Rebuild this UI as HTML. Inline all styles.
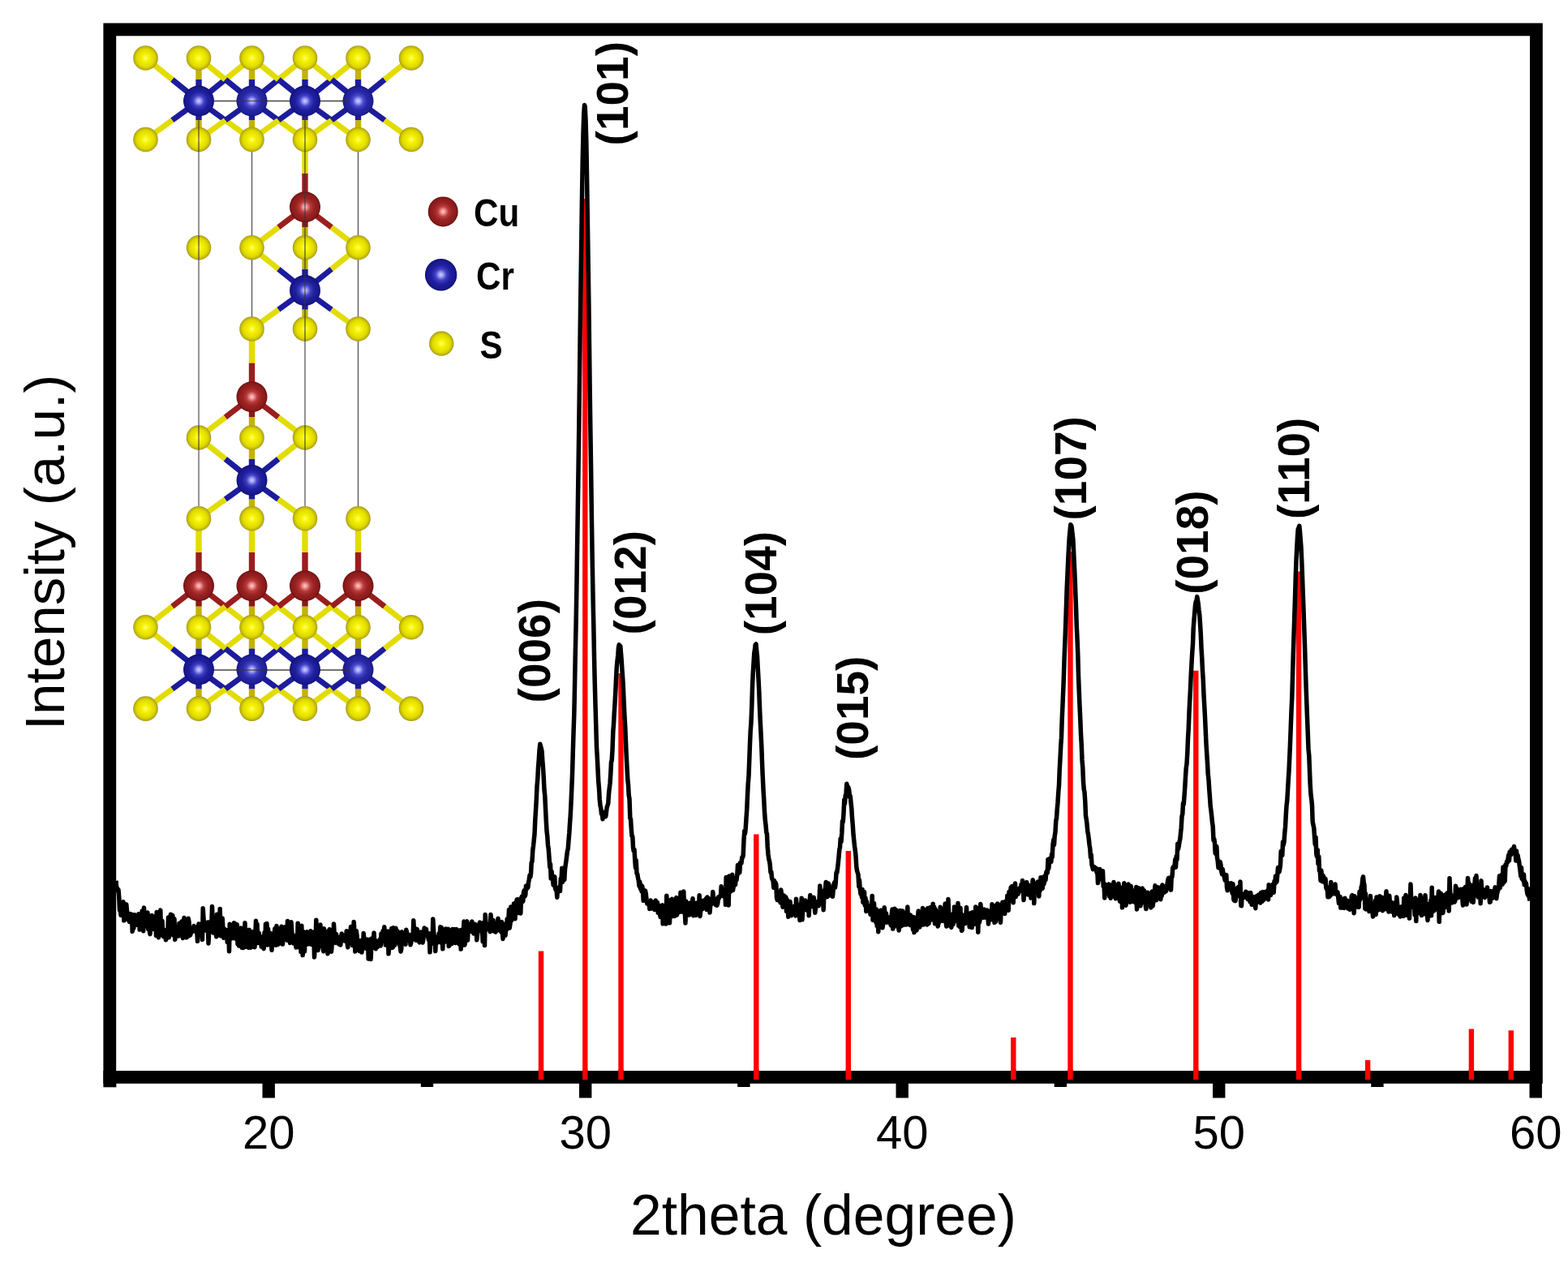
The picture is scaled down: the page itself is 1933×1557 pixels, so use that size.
<!DOCTYPE html><html><head><meta charset="utf-8"><style>html,body{margin:0;padding:0;background:#fff;}svg{display:block;}</style></head><body>
<svg width="1933" height="1557" viewBox="0 0 1933 1557">
<rect width="100%" height="100%" fill="#fff"/>
<defs>
<radialGradient id="gS" cx="0.5" cy="0.5" r="0.5"><stop offset="0" stop-color="#ffff70"/><stop offset="0.3" stop-color="#f6f200"/><stop offset="0.72" stop-color="#e0da00"/><stop offset="0.9" stop-color="#c2b800"/><stop offset="1" stop-color="#a09630"/></radialGradient>
<radialGradient id="gCr" cx="0.5" cy="0.5" r="0.5"><stop offset="0" stop-color="#d4d4ff"/><stop offset="0.15" stop-color="#9a9af6"/><stop offset="0.35" stop-color="#4040c4"/><stop offset="0.6" stop-color="#2020a0"/><stop offset="0.88" stop-color="#181890"/><stop offset="1" stop-color="#10106c"/></radialGradient>
<radialGradient id="gCu" cx="0.5" cy="0.5" r="0.5"><stop offset="0" stop-color="#ffd0d0"/><stop offset="0.15" stop-color="#f09090"/><stop offset="0.35" stop-color="#b83c3c"/><stop offset="0.6" stop-color="#9a2222"/><stop offset="0.88" stop-color="#8a1a1a"/><stop offset="1" stop-color="#641010"/></radialGradient>
<radialGradient id="gCr2" cx="0.5" cy="0.5" r="0.5"><stop offset="0" stop-color="#d8d8ff"/><stop offset="0.15" stop-color="#a0a0f8"/><stop offset="0.35" stop-color="#4848ca"/><stop offset="0.6" stop-color="#2828a8"/><stop offset="0.88" stop-color="#202098"/><stop offset="1" stop-color="#161676"/></radialGradient>
</defs>
<line x1="310.5" y1="124.5" x2="310.5" y2="825.5" stroke="#6a6a6a" stroke-width="1.6"/>
<line x1="441.5" y1="124.5" x2="441.5" y2="825.5" stroke="#6a6a6a" stroke-width="1.6"/>
<line x1="245" y1="124.5" x2="441.5" y2="124.5" stroke="#444" stroke-width="1.6"/>
<line x1="245" y1="826.0" x2="441.5" y2="826.0" stroke="#444" stroke-width="1.6"/>
<line x1="245.0" y1="124.5" x2="212.25" y2="98.00" stroke="#1c1c9c" stroke-width="6.9"/>
<line x1="212.25" y1="98.00" x2="179.5" y2="71.5" stroke="#e2dc00" stroke-width="6.9"/>
<line x1="245.0" y1="124.5" x2="212.25" y2="148.25" stroke="#1c1c9c" stroke-width="6.9"/>
<line x1="212.25" y1="148.25" x2="179.5" y2="172.0" stroke="#e2dc00" stroke-width="6.9"/>
<line x1="245.0" y1="124.5" x2="245.00" y2="98.00" stroke="#1c1c9c" stroke-width="7.4"/>
<line x1="245.00" y1="98.00" x2="245.0" y2="71.5" stroke="#c4b400" stroke-width="7.4"/>
<line x1="245.0" y1="124.5" x2="245.00" y2="148.25" stroke="#1c1c9c" stroke-width="7.4"/>
<line x1="245.00" y1="148.25" x2="245.0" y2="172.0" stroke="#c4b400" stroke-width="7.4"/>
<line x1="245.0" y1="124.5" x2="277.75" y2="98.00" stroke="#1c1c9c" stroke-width="6.9"/>
<line x1="277.75" y1="98.00" x2="310.5" y2="71.5" stroke="#e2dc00" stroke-width="6.9"/>
<line x1="245.0" y1="124.5" x2="277.75" y2="148.25" stroke="#1c1c9c" stroke-width="6.9"/>
<line x1="277.75" y1="148.25" x2="310.5" y2="172.0" stroke="#e2dc00" stroke-width="6.9"/>
<line x1="310.5" y1="124.5" x2="277.75" y2="98.00" stroke="#1c1c9c" stroke-width="6.9"/>
<line x1="277.75" y1="98.00" x2="245.0" y2="71.5" stroke="#e2dc00" stroke-width="6.9"/>
<line x1="310.5" y1="124.5" x2="277.75" y2="148.25" stroke="#1c1c9c" stroke-width="6.9"/>
<line x1="277.75" y1="148.25" x2="245.0" y2="172.0" stroke="#e2dc00" stroke-width="6.9"/>
<line x1="310.5" y1="124.5" x2="310.50" y2="98.00" stroke="#1c1c9c" stroke-width="7.4"/>
<line x1="310.50" y1="98.00" x2="310.5" y2="71.5" stroke="#c4b400" stroke-width="7.4"/>
<line x1="310.5" y1="124.5" x2="310.50" y2="148.25" stroke="#1c1c9c" stroke-width="7.4"/>
<line x1="310.50" y1="148.25" x2="310.5" y2="172.0" stroke="#c4b400" stroke-width="7.4"/>
<line x1="310.5" y1="124.5" x2="343.25" y2="98.00" stroke="#1c1c9c" stroke-width="6.9"/>
<line x1="343.25" y1="98.00" x2="376.0" y2="71.5" stroke="#e2dc00" stroke-width="6.9"/>
<line x1="310.5" y1="124.5" x2="343.25" y2="148.25" stroke="#1c1c9c" stroke-width="6.9"/>
<line x1="343.25" y1="148.25" x2="376.0" y2="172.0" stroke="#e2dc00" stroke-width="6.9"/>
<line x1="376.0" y1="124.5" x2="343.25" y2="98.00" stroke="#1c1c9c" stroke-width="6.9"/>
<line x1="343.25" y1="98.00" x2="310.5" y2="71.5" stroke="#e2dc00" stroke-width="6.9"/>
<line x1="376.0" y1="124.5" x2="343.25" y2="148.25" stroke="#1c1c9c" stroke-width="6.9"/>
<line x1="343.25" y1="148.25" x2="310.5" y2="172.0" stroke="#e2dc00" stroke-width="6.9"/>
<line x1="376.0" y1="124.5" x2="376.00" y2="98.00" stroke="#1c1c9c" stroke-width="7.4"/>
<line x1="376.00" y1="98.00" x2="376.0" y2="71.5" stroke="#c4b400" stroke-width="7.4"/>
<line x1="376.0" y1="124.5" x2="376.00" y2="148.25" stroke="#1c1c9c" stroke-width="7.4"/>
<line x1="376.00" y1="148.25" x2="376.0" y2="172.0" stroke="#c4b400" stroke-width="7.4"/>
<line x1="376.0" y1="124.5" x2="408.75" y2="98.00" stroke="#1c1c9c" stroke-width="6.9"/>
<line x1="408.75" y1="98.00" x2="441.5" y2="71.5" stroke="#e2dc00" stroke-width="6.9"/>
<line x1="376.0" y1="124.5" x2="408.75" y2="148.25" stroke="#1c1c9c" stroke-width="6.9"/>
<line x1="408.75" y1="148.25" x2="441.5" y2="172.0" stroke="#e2dc00" stroke-width="6.9"/>
<line x1="441.5" y1="124.5" x2="408.75" y2="98.00" stroke="#1c1c9c" stroke-width="6.9"/>
<line x1="408.75" y1="98.00" x2="376.0" y2="71.5" stroke="#e2dc00" stroke-width="6.9"/>
<line x1="441.5" y1="124.5" x2="408.75" y2="148.25" stroke="#1c1c9c" stroke-width="6.9"/>
<line x1="408.75" y1="148.25" x2="376.0" y2="172.0" stroke="#e2dc00" stroke-width="6.9"/>
<line x1="441.5" y1="124.5" x2="441.50" y2="98.00" stroke="#1c1c9c" stroke-width="7.4"/>
<line x1="441.50" y1="98.00" x2="441.5" y2="71.5" stroke="#c4b400" stroke-width="7.4"/>
<line x1="441.5" y1="124.5" x2="441.50" y2="148.25" stroke="#1c1c9c" stroke-width="7.4"/>
<line x1="441.50" y1="148.25" x2="441.5" y2="172.0" stroke="#c4b400" stroke-width="7.4"/>
<line x1="441.5" y1="124.5" x2="474.25" y2="98.00" stroke="#1c1c9c" stroke-width="6.9"/>
<line x1="474.25" y1="98.00" x2="507.0" y2="71.5" stroke="#e2dc00" stroke-width="6.9"/>
<line x1="441.5" y1="124.5" x2="474.25" y2="148.25" stroke="#1c1c9c" stroke-width="6.9"/>
<line x1="474.25" y1="148.25" x2="507.0" y2="172.0" stroke="#e2dc00" stroke-width="6.9"/>
<line x1="376" y1="255.2" x2="376.00" y2="213.60" stroke="#9a1e1e" stroke-width="7.4"/>
<line x1="376.00" y1="213.60" x2="376" y2="172.0" stroke="#e2dc00" stroke-width="7.4"/>
<line x1="376" y1="255.2" x2="343.25" y2="280.20" stroke="#9a1e1e" stroke-width="6.9"/>
<line x1="343.25" y1="280.20" x2="310.5" y2="305.2" stroke="#e2dc00" stroke-width="6.9"/>
<line x1="376" y1="255.2" x2="376.00" y2="280.20" stroke="#8a1a1a" stroke-width="7.4"/>
<line x1="376.00" y1="280.20" x2="376" y2="305.2" stroke="#c4b400" stroke-width="7.4"/>
<line x1="376" y1="255.2" x2="408.75" y2="280.20" stroke="#9a1e1e" stroke-width="6.9"/>
<line x1="408.75" y1="280.20" x2="441.5" y2="305.2" stroke="#e2dc00" stroke-width="6.9"/>
<line x1="376" y1="358.0" x2="343.25" y2="331.60" stroke="#1c1c9c" stroke-width="6.9"/>
<line x1="343.25" y1="331.60" x2="310.5" y2="305.2" stroke="#e2dc00" stroke-width="6.9"/>
<line x1="376" y1="358.0" x2="343.25" y2="381.75" stroke="#1c1c9c" stroke-width="6.9"/>
<line x1="343.25" y1="381.75" x2="310.5" y2="405.5" stroke="#e2dc00" stroke-width="6.9"/>
<line x1="376" y1="358.0" x2="376.00" y2="331.60" stroke="#1c1c9c" stroke-width="7.4"/>
<line x1="376.00" y1="331.60" x2="376" y2="305.2" stroke="#c4b400" stroke-width="7.4"/>
<line x1="376" y1="358.0" x2="376.00" y2="381.75" stroke="#1c1c9c" stroke-width="7.4"/>
<line x1="376.00" y1="381.75" x2="376" y2="405.5" stroke="#c4b400" stroke-width="7.4"/>
<line x1="376" y1="358.0" x2="408.75" y2="331.60" stroke="#1c1c9c" stroke-width="6.9"/>
<line x1="408.75" y1="331.60" x2="441.5" y2="305.2" stroke="#e2dc00" stroke-width="6.9"/>
<line x1="376" y1="358.0" x2="408.75" y2="381.75" stroke="#1c1c9c" stroke-width="6.9"/>
<line x1="408.75" y1="381.75" x2="441.5" y2="405.5" stroke="#e2dc00" stroke-width="6.9"/>
<line x1="310.5" y1="489.3" x2="310.50" y2="447.40" stroke="#9a1e1e" stroke-width="7.4"/>
<line x1="310.50" y1="447.40" x2="310.5" y2="405.5" stroke="#e2dc00" stroke-width="7.4"/>
<line x1="310.5" y1="489.3" x2="277.75" y2="514.40" stroke="#9a1e1e" stroke-width="6.9"/>
<line x1="277.75" y1="514.40" x2="245.0" y2="539.5" stroke="#e2dc00" stroke-width="6.9"/>
<line x1="310.5" y1="489.3" x2="310.50" y2="514.40" stroke="#8a1a1a" stroke-width="7.4"/>
<line x1="310.50" y1="514.40" x2="310.5" y2="539.5" stroke="#c4b400" stroke-width="7.4"/>
<line x1="310.5" y1="489.3" x2="343.25" y2="514.40" stroke="#9a1e1e" stroke-width="6.9"/>
<line x1="343.25" y1="514.40" x2="376.0" y2="539.5" stroke="#e2dc00" stroke-width="6.9"/>
<line x1="310.5" y1="592.0" x2="277.75" y2="565.75" stroke="#1c1c9c" stroke-width="6.9"/>
<line x1="277.75" y1="565.75" x2="245.0" y2="539.5" stroke="#e2dc00" stroke-width="6.9"/>
<line x1="310.5" y1="592.0" x2="277.75" y2="615.65" stroke="#1c1c9c" stroke-width="6.9"/>
<line x1="277.75" y1="615.65" x2="245.0" y2="639.3" stroke="#e2dc00" stroke-width="6.9"/>
<line x1="310.5" y1="592.0" x2="310.50" y2="565.75" stroke="#1c1c9c" stroke-width="7.4"/>
<line x1="310.50" y1="565.75" x2="310.5" y2="539.5" stroke="#c4b400" stroke-width="7.4"/>
<line x1="310.5" y1="592.0" x2="310.50" y2="615.65" stroke="#1c1c9c" stroke-width="7.4"/>
<line x1="310.50" y1="615.65" x2="310.5" y2="639.3" stroke="#c4b400" stroke-width="7.4"/>
<line x1="310.5" y1="592.0" x2="343.25" y2="565.75" stroke="#1c1c9c" stroke-width="6.9"/>
<line x1="343.25" y1="565.75" x2="376.0" y2="539.5" stroke="#e2dc00" stroke-width="6.9"/>
<line x1="310.5" y1="592.0" x2="343.25" y2="615.65" stroke="#1c1c9c" stroke-width="6.9"/>
<line x1="343.25" y1="615.65" x2="376.0" y2="639.3" stroke="#e2dc00" stroke-width="6.9"/>
<line x1="245.0" y1="722.2" x2="245.00" y2="680.75" stroke="#9a1e1e" stroke-width="7.4"/>
<line x1="245.00" y1="680.75" x2="245.0" y2="639.3" stroke="#e2dc00" stroke-width="7.4"/>
<line x1="245.0" y1="722.2" x2="212.25" y2="747.75" stroke="#9a1e1e" stroke-width="6.9"/>
<line x1="212.25" y1="747.75" x2="179.5" y2="773.3" stroke="#e2dc00" stroke-width="6.9"/>
<line x1="245.0" y1="722.2" x2="245.00" y2="747.75" stroke="#8a1a1a" stroke-width="7.4"/>
<line x1="245.00" y1="747.75" x2="245.0" y2="773.3" stroke="#c4b400" stroke-width="7.4"/>
<line x1="245.0" y1="722.2" x2="277.75" y2="747.75" stroke="#9a1e1e" stroke-width="6.9"/>
<line x1="277.75" y1="747.75" x2="310.5" y2="773.3" stroke="#e2dc00" stroke-width="6.9"/>
<line x1="245.0" y1="825.5" x2="212.25" y2="799.40" stroke="#1c1c9c" stroke-width="6.9"/>
<line x1="212.25" y1="799.40" x2="179.5" y2="773.3" stroke="#e2dc00" stroke-width="6.9"/>
<line x1="245.0" y1="825.5" x2="212.25" y2="849.55" stroke="#1c1c9c" stroke-width="6.9"/>
<line x1="212.25" y1="849.55" x2="179.5" y2="873.6" stroke="#e2dc00" stroke-width="6.9"/>
<line x1="245.0" y1="825.5" x2="245.00" y2="799.40" stroke="#1c1c9c" stroke-width="7.4"/>
<line x1="245.00" y1="799.40" x2="245.0" y2="773.3" stroke="#c4b400" stroke-width="7.4"/>
<line x1="245.0" y1="825.5" x2="245.00" y2="849.55" stroke="#1c1c9c" stroke-width="7.4"/>
<line x1="245.00" y1="849.55" x2="245.0" y2="873.6" stroke="#c4b400" stroke-width="7.4"/>
<line x1="245.0" y1="825.5" x2="277.75" y2="799.40" stroke="#1c1c9c" stroke-width="6.9"/>
<line x1="277.75" y1="799.40" x2="310.5" y2="773.3" stroke="#e2dc00" stroke-width="6.9"/>
<line x1="245.0" y1="825.5" x2="277.75" y2="849.55" stroke="#1c1c9c" stroke-width="6.9"/>
<line x1="277.75" y1="849.55" x2="310.5" y2="873.6" stroke="#e2dc00" stroke-width="6.9"/>
<line x1="310.5" y1="722.2" x2="310.50" y2="680.75" stroke="#9a1e1e" stroke-width="7.4"/>
<line x1="310.50" y1="680.75" x2="310.5" y2="639.3" stroke="#e2dc00" stroke-width="7.4"/>
<line x1="310.5" y1="722.2" x2="277.75" y2="747.75" stroke="#9a1e1e" stroke-width="6.9"/>
<line x1="277.75" y1="747.75" x2="245.0" y2="773.3" stroke="#e2dc00" stroke-width="6.9"/>
<line x1="310.5" y1="722.2" x2="310.50" y2="747.75" stroke="#8a1a1a" stroke-width="7.4"/>
<line x1="310.50" y1="747.75" x2="310.5" y2="773.3" stroke="#c4b400" stroke-width="7.4"/>
<line x1="310.5" y1="722.2" x2="343.25" y2="747.75" stroke="#9a1e1e" stroke-width="6.9"/>
<line x1="343.25" y1="747.75" x2="376.0" y2="773.3" stroke="#e2dc00" stroke-width="6.9"/>
<line x1="310.5" y1="825.5" x2="277.75" y2="799.40" stroke="#1c1c9c" stroke-width="6.9"/>
<line x1="277.75" y1="799.40" x2="245.0" y2="773.3" stroke="#e2dc00" stroke-width="6.9"/>
<line x1="310.5" y1="825.5" x2="277.75" y2="849.55" stroke="#1c1c9c" stroke-width="6.9"/>
<line x1="277.75" y1="849.55" x2="245.0" y2="873.6" stroke="#e2dc00" stroke-width="6.9"/>
<line x1="310.5" y1="825.5" x2="310.50" y2="799.40" stroke="#1c1c9c" stroke-width="7.4"/>
<line x1="310.50" y1="799.40" x2="310.5" y2="773.3" stroke="#c4b400" stroke-width="7.4"/>
<line x1="310.5" y1="825.5" x2="310.50" y2="849.55" stroke="#1c1c9c" stroke-width="7.4"/>
<line x1="310.50" y1="849.55" x2="310.5" y2="873.6" stroke="#c4b400" stroke-width="7.4"/>
<line x1="310.5" y1="825.5" x2="343.25" y2="799.40" stroke="#1c1c9c" stroke-width="6.9"/>
<line x1="343.25" y1="799.40" x2="376.0" y2="773.3" stroke="#e2dc00" stroke-width="6.9"/>
<line x1="310.5" y1="825.5" x2="343.25" y2="849.55" stroke="#1c1c9c" stroke-width="6.9"/>
<line x1="343.25" y1="849.55" x2="376.0" y2="873.6" stroke="#e2dc00" stroke-width="6.9"/>
<line x1="376.0" y1="722.2" x2="376.00" y2="680.75" stroke="#9a1e1e" stroke-width="7.4"/>
<line x1="376.00" y1="680.75" x2="376.0" y2="639.3" stroke="#e2dc00" stroke-width="7.4"/>
<line x1="376.0" y1="722.2" x2="343.25" y2="747.75" stroke="#9a1e1e" stroke-width="6.9"/>
<line x1="343.25" y1="747.75" x2="310.5" y2="773.3" stroke="#e2dc00" stroke-width="6.9"/>
<line x1="376.0" y1="722.2" x2="376.00" y2="747.75" stroke="#8a1a1a" stroke-width="7.4"/>
<line x1="376.00" y1="747.75" x2="376.0" y2="773.3" stroke="#c4b400" stroke-width="7.4"/>
<line x1="376.0" y1="722.2" x2="408.75" y2="747.75" stroke="#9a1e1e" stroke-width="6.9"/>
<line x1="408.75" y1="747.75" x2="441.5" y2="773.3" stroke="#e2dc00" stroke-width="6.9"/>
<line x1="376.0" y1="825.5" x2="343.25" y2="799.40" stroke="#1c1c9c" stroke-width="6.9"/>
<line x1="343.25" y1="799.40" x2="310.5" y2="773.3" stroke="#e2dc00" stroke-width="6.9"/>
<line x1="376.0" y1="825.5" x2="343.25" y2="849.55" stroke="#1c1c9c" stroke-width="6.9"/>
<line x1="343.25" y1="849.55" x2="310.5" y2="873.6" stroke="#e2dc00" stroke-width="6.9"/>
<line x1="376.0" y1="825.5" x2="376.00" y2="799.40" stroke="#1c1c9c" stroke-width="7.4"/>
<line x1="376.00" y1="799.40" x2="376.0" y2="773.3" stroke="#c4b400" stroke-width="7.4"/>
<line x1="376.0" y1="825.5" x2="376.00" y2="849.55" stroke="#1c1c9c" stroke-width="7.4"/>
<line x1="376.00" y1="849.55" x2="376.0" y2="873.6" stroke="#c4b400" stroke-width="7.4"/>
<line x1="376.0" y1="825.5" x2="408.75" y2="799.40" stroke="#1c1c9c" stroke-width="6.9"/>
<line x1="408.75" y1="799.40" x2="441.5" y2="773.3" stroke="#e2dc00" stroke-width="6.9"/>
<line x1="376.0" y1="825.5" x2="408.75" y2="849.55" stroke="#1c1c9c" stroke-width="6.9"/>
<line x1="408.75" y1="849.55" x2="441.5" y2="873.6" stroke="#e2dc00" stroke-width="6.9"/>
<line x1="441.5" y1="722.2" x2="441.50" y2="680.75" stroke="#9a1e1e" stroke-width="7.4"/>
<line x1="441.50" y1="680.75" x2="441.5" y2="639.3" stroke="#e2dc00" stroke-width="7.4"/>
<line x1="441.5" y1="722.2" x2="408.75" y2="747.75" stroke="#9a1e1e" stroke-width="6.9"/>
<line x1="408.75" y1="747.75" x2="376.0" y2="773.3" stroke="#e2dc00" stroke-width="6.9"/>
<line x1="441.5" y1="722.2" x2="441.50" y2="747.75" stroke="#8a1a1a" stroke-width="7.4"/>
<line x1="441.50" y1="747.75" x2="441.5" y2="773.3" stroke="#c4b400" stroke-width="7.4"/>
<line x1="441.5" y1="722.2" x2="474.25" y2="747.75" stroke="#9a1e1e" stroke-width="6.9"/>
<line x1="474.25" y1="747.75" x2="507.0" y2="773.3" stroke="#e2dc00" stroke-width="6.9"/>
<line x1="441.5" y1="825.5" x2="408.75" y2="799.40" stroke="#1c1c9c" stroke-width="6.9"/>
<line x1="408.75" y1="799.40" x2="376.0" y2="773.3" stroke="#e2dc00" stroke-width="6.9"/>
<line x1="441.5" y1="825.5" x2="408.75" y2="849.55" stroke="#1c1c9c" stroke-width="6.9"/>
<line x1="408.75" y1="849.55" x2="376.0" y2="873.6" stroke="#e2dc00" stroke-width="6.9"/>
<line x1="441.5" y1="825.5" x2="441.50" y2="799.40" stroke="#1c1c9c" stroke-width="7.4"/>
<line x1="441.50" y1="799.40" x2="441.5" y2="773.3" stroke="#c4b400" stroke-width="7.4"/>
<line x1="441.5" y1="825.5" x2="441.50" y2="849.55" stroke="#1c1c9c" stroke-width="7.4"/>
<line x1="441.50" y1="849.55" x2="441.5" y2="873.6" stroke="#c4b400" stroke-width="7.4"/>
<line x1="441.5" y1="825.5" x2="474.25" y2="799.40" stroke="#1c1c9c" stroke-width="6.9"/>
<line x1="474.25" y1="799.40" x2="507.0" y2="773.3" stroke="#e2dc00" stroke-width="6.9"/>
<line x1="441.5" y1="825.5" x2="474.25" y2="849.55" stroke="#1c1c9c" stroke-width="6.9"/>
<line x1="474.25" y1="849.55" x2="507.0" y2="873.6" stroke="#e2dc00" stroke-width="6.9"/>
<circle cx="179.5" cy="71.5" r="15.3" fill="url(#gS)"/>
<circle cx="179.5" cy="172.0" r="15.3" fill="url(#gS)"/>
<circle cx="245.0" cy="71.5" r="15.3" fill="url(#gS)"/>
<circle cx="245.0" cy="172.0" r="15.3" fill="url(#gS)"/>
<circle cx="310.5" cy="71.5" r="15.3" fill="url(#gS)"/>
<circle cx="310.5" cy="172.0" r="15.3" fill="url(#gS)"/>
<circle cx="376.0" cy="71.5" r="15.3" fill="url(#gS)"/>
<circle cx="376.0" cy="172.0" r="15.3" fill="url(#gS)"/>
<circle cx="441.5" cy="71.5" r="15.3" fill="url(#gS)"/>
<circle cx="441.5" cy="172.0" r="15.3" fill="url(#gS)"/>
<circle cx="507.0" cy="71.5" r="15.3" fill="url(#gS)"/>
<circle cx="507.0" cy="172.0" r="15.3" fill="url(#gS)"/>
<circle cx="245.0" cy="124.5" r="19.0" fill="url(#gCr)"/>
<circle cx="310.5" cy="124.5" r="19.0" fill="url(#gCr2)"/>
<circle cx="376.0" cy="124.5" r="19.0" fill="url(#gCr)"/>
<circle cx="441.5" cy="124.5" r="19.0" fill="url(#gCr2)"/>
<circle cx="376" cy="255.2" r="19.0" fill="url(#gCu)"/>
<circle cx="245" cy="305.2" r="15.3" fill="url(#gS)"/>
<circle cx="310.5" cy="305.2" r="15.3" fill="url(#gS)"/>
<circle cx="376" cy="305.2" r="15.3" fill="url(#gS)"/>
<circle cx="441.5" cy="305.2" r="15.3" fill="url(#gS)"/>
<circle cx="310.5" cy="405.5" r="15.3" fill="url(#gS)"/>
<circle cx="376" cy="405.5" r="15.3" fill="url(#gS)"/>
<circle cx="441.5" cy="405.5" r="15.3" fill="url(#gS)"/>
<circle cx="376" cy="358.0" r="19.0" fill="url(#gCr)"/>
<circle cx="310.5" cy="489.3" r="19.0" fill="url(#gCu)"/>
<circle cx="245" cy="539.5" r="15.3" fill="url(#gS)"/>
<circle cx="310.5" cy="539.5" r="15.3" fill="url(#gS)"/>
<circle cx="376" cy="539.5" r="15.3" fill="url(#gS)"/>
<circle cx="245" cy="639.3" r="15.3" fill="url(#gS)"/>
<circle cx="310.5" cy="639.3" r="15.3" fill="url(#gS)"/>
<circle cx="376" cy="639.3" r="15.3" fill="url(#gS)"/>
<circle cx="441.5" cy="639.3" r="15.3" fill="url(#gS)"/>
<circle cx="310.5" cy="592.0" r="19.0" fill="url(#gCr)"/>
<circle cx="179.5" cy="773.3" r="15.3" fill="url(#gS)"/>
<circle cx="179.5" cy="873.6" r="15.3" fill="url(#gS)"/>
<circle cx="245.0" cy="773.3" r="15.3" fill="url(#gS)"/>
<circle cx="245.0" cy="873.6" r="15.3" fill="url(#gS)"/>
<circle cx="310.5" cy="773.3" r="15.3" fill="url(#gS)"/>
<circle cx="310.5" cy="873.6" r="15.3" fill="url(#gS)"/>
<circle cx="376.0" cy="773.3" r="15.3" fill="url(#gS)"/>
<circle cx="376.0" cy="873.6" r="15.3" fill="url(#gS)"/>
<circle cx="441.5" cy="773.3" r="15.3" fill="url(#gS)"/>
<circle cx="441.5" cy="873.6" r="15.3" fill="url(#gS)"/>
<circle cx="507.0" cy="773.3" r="15.3" fill="url(#gS)"/>
<circle cx="507.0" cy="873.6" r="15.3" fill="url(#gS)"/>
<circle cx="245.0" cy="722.2" r="19.0" fill="url(#gCu)"/>
<circle cx="245.0" cy="825.5" r="19.0" fill="url(#gCr)"/>
<circle cx="310.5" cy="722.2" r="19.0" fill="url(#gCu)"/>
<circle cx="310.5" cy="825.5" r="19.0" fill="url(#gCr2)"/>
<circle cx="376.0" cy="722.2" r="19.0" fill="url(#gCu)"/>
<circle cx="376.0" cy="825.5" r="19.0" fill="url(#gCr)"/>
<circle cx="441.5" cy="722.2" r="19.0" fill="url(#gCu)"/>
<circle cx="441.5" cy="825.5" r="19.0" fill="url(#gCr2)"/>
<line x1="291" y1="124.5" x2="330" y2="124.5" stroke="#333" stroke-opacity="0.75" stroke-width="1.5"/>
<line x1="421" y1="124.5" x2="431" y2="124.5" stroke="#333" stroke-opacity="0.75" stroke-width="1.5"/>
<line x1="291" y1="826.0" x2="330" y2="826.0" stroke="#333" stroke-opacity="0.75" stroke-width="1.5"/>
<line x1="421" y1="826.0" x2="431" y2="826.0" stroke="#333" stroke-opacity="0.75" stroke-width="1.5"/>
<line x1="245" y1="143" x2="245" y2="624" stroke="#333" stroke-opacity="0.7" stroke-width="1.5"/>
<line x1="376" y1="143" x2="376" y2="624" stroke="#333" stroke-opacity="0.7" stroke-width="1.5"/>
<circle cx="546.2" cy="260.9" r="18.5" fill="url(#gCu)"/>
<circle cx="543.6" cy="338.7" r="19.7" fill="url(#gCr)"/>
<circle cx="544.2" cy="423.5" r="15.2" fill="url(#gS)"/>
<line x1="667" y1="1172.6" x2="667" y2="1328" stroke="#ff0000" stroke-width="6.4"/>
<line x1="721.3" y1="245" x2="721.3" y2="1328" stroke="#ff0000" stroke-width="6.4"/>
<line x1="765.5" y1="830" x2="765.5" y2="1328" stroke="#ff0000" stroke-width="6.4"/>
<line x1="932.3" y1="1028.4" x2="932.3" y2="1328" stroke="#ff0000" stroke-width="6.4"/>
<line x1="1045.8" y1="1048.9" x2="1045.8" y2="1328" stroke="#ff0000" stroke-width="6.4"/>
<line x1="1249.3" y1="1279" x2="1249.3" y2="1328" stroke="#ff0000" stroke-width="6.4"/>
<line x1="1319.5" y1="680" x2="1319.5" y2="1328" stroke="#ff0000" stroke-width="6.4"/>
<line x1="1474.3" y1="826.8" x2="1474.3" y2="1328" stroke="#ff0000" stroke-width="6.4"/>
<line x1="1601.1" y1="704.5" x2="1601.1" y2="1328" stroke="#ff0000" stroke-width="6.4"/>
<line x1="1686.1" y1="1306.8" x2="1686.1" y2="1328" stroke="#ff0000" stroke-width="6.4"/>
<line x1="1813.9" y1="1268.5" x2="1813.9" y2="1328" stroke="#ff0000" stroke-width="6.4"/>
<line x1="1862.8" y1="1270.3" x2="1862.8" y2="1328" stroke="#ff0000" stroke-width="6.4"/>
<clipPath id="pc"><rect x="143" y="44" width="1743" height="1276"/></clipPath>
<g clip-path="url(#pc)"><path d="M143.0,1085.8 L143.8,1096.7 L144.5,1094.5 L145.2,1098.0 L146.0,1096.9 L146.8,1106.7 L147.5,1121.9 L148.2,1119.4 L149.0,1128.3 L149.8,1125.0 L150.5,1128.1 L151.2,1127.1 L152.0,1111.8 L152.8,1134.8 L153.5,1132.6 L154.2,1133.5 L155.0,1115.2 L155.8,1115.0 L156.5,1122.8 L157.2,1126.8 L158.0,1133.9 L158.8,1131.1 L159.5,1136.4 L160.2,1126.5 L161.0,1135.1 L161.8,1136.2 L162.5,1127.2 L163.2,1148.3 L164.0,1138.5 L164.8,1144.4 L165.5,1128.7 L166.2,1127.8 L167.0,1131.4 L167.8,1133.6 L168.5,1140.2 L169.2,1137.0 L170.0,1131.1 L170.8,1126.8 L171.5,1130.7 L172.2,1146.1 L173.0,1128.5 L173.8,1137.9 L174.5,1139.6 L175.2,1123.0 L176.0,1136.6 L176.8,1147.8 L177.5,1118.9 L178.2,1133.8 L179.0,1135.9 L179.8,1129.8 L180.5,1141.6 L181.2,1137.0 L182.0,1125.0 L182.8,1145.3 L183.5,1144.3 L184.2,1147.0 L185.0,1151.6 L185.8,1142.5 L186.5,1140.6 L187.2,1128.5 L188.0,1145.6 L188.8,1135.1 L189.5,1136.8 L190.2,1130.0 L191.0,1132.9 L191.8,1137.1 L192.5,1153.3 L193.2,1124.5 L194.0,1129.8 L194.8,1145.0 L195.5,1155.8 L196.2,1148.6 L197.0,1127.2 L197.8,1122.1 L198.5,1147.5 L199.2,1138.3 L200.0,1135.2 L200.8,1153.5 L201.5,1154.6 L202.2,1146.3 L203.0,1147.0 L203.8,1148.6 L204.5,1158.7 L205.2,1150.2 L206.0,1149.2 L206.8,1149.5 L207.5,1130.9 L208.2,1155.8 L209.0,1152.9 L209.8,1149.1 L210.5,1127.2 L211.2,1138.9 L212.0,1151.8 L212.8,1128.5 L213.5,1142.7 L214.2,1153.2 L215.0,1132.8 L215.8,1158.3 L216.5,1149.0 L217.2,1142.8 L218.0,1146.9 L218.8,1149.7 L219.5,1145.1 L220.2,1154.0 L221.0,1138.2 L221.8,1140.3 L222.5,1153.0 L223.2,1144.1 L224.0,1136.1 L224.8,1152.0 L225.5,1156.5 L226.2,1139.8 L227.0,1131.6 L227.8,1142.4 L228.5,1142.3 L229.2,1140.9 L230.0,1155.8 L230.8,1134.5 L231.5,1154.4 L232.2,1132.3 L233.0,1136.5 L233.8,1148.8 L234.5,1153.1 L235.2,1150.7 L236.0,1146.2 L236.8,1144.4 L237.5,1144.5 L238.2,1148.1 L239.0,1141.5 L239.8,1145.4 L240.5,1148.0 L241.2,1142.9 L242.0,1149.5 L242.8,1147.7 L243.5,1160.3 L244.2,1145.5 L245.0,1138.9 L245.8,1139.3 L246.5,1142.4 L247.2,1150.5 L248.0,1139.4 L248.8,1145.7 L249.5,1158.3 L250.2,1119.8 L251.0,1132.3 L251.8,1144.2 L252.5,1145.5 L253.2,1144.0 L254.0,1138.1 L254.8,1147.5 L255.5,1144.2 L256.2,1137.1 L257.0,1162.9 L257.8,1144.7 L258.5,1136.7 L259.2,1140.6 L260.0,1139.4 L260.8,1140.8 L261.5,1117.4 L262.2,1137.0 L263.0,1150.0 L263.8,1130.9 L264.5,1140.5 L265.2,1149.4 L266.0,1148.9 L266.8,1154.8 L267.5,1127.3 L268.2,1139.4 L269.0,1139.8 L269.8,1148.6 L270.5,1153.0 L271.2,1120.4 L272.0,1153.7 L272.8,1131.8 L273.5,1150.8 L274.2,1132.1 L275.0,1147.0 L275.8,1156.3 L276.5,1144.9 L277.2,1148.2 L278.0,1153.8 L278.8,1148.4 L279.5,1146.8 L280.2,1161.3 L281.0,1157.4 L281.8,1146.0 L282.5,1172.8 L283.2,1139.2 L284.0,1157.5 L284.8,1147.6 L285.5,1151.3 L286.2,1156.6 L287.0,1152.6 L287.8,1156.5 L288.5,1137.8 L289.2,1138.2 L290.0,1157.0 L290.8,1143.5 L291.5,1143.2 L292.2,1139.6 L293.0,1163.7 L293.8,1159.4 L294.5,1166.0 L295.2,1145.2 L296.0,1153.7 L296.8,1144.0 L297.5,1160.9 L298.2,1168.3 L299.0,1146.9 L299.8,1168.5 L300.5,1163.6 L301.2,1153.5 L302.0,1137.8 L302.8,1167.3 L303.5,1154.2 L304.2,1149.8 L305.0,1158.6 L305.8,1158.7 L306.5,1168.2 L307.2,1146.2 L308.0,1165.1 L308.8,1168.2 L309.5,1167.9 L310.2,1153.6 L311.0,1148.7 L311.8,1164.1 L312.5,1156.3 L313.2,1156.4 L314.0,1167.7 L314.8,1153.0 L315.5,1135.3 L316.2,1152.0 L317.0,1139.2 L317.8,1162.5 L318.5,1158.1 L319.2,1150.1 L320.0,1155.3 L320.8,1162.7 L321.5,1156.1 L322.2,1167.0 L323.0,1154.9 L323.8,1164.6 L324.5,1168.5 L325.2,1169.5 L326.0,1149.7 L326.8,1163.2 L327.5,1139.2 L328.2,1146.1 L329.0,1138.5 L329.8,1164.9 L330.5,1144.9 L331.2,1155.5 L332.0,1154.0 L332.8,1155.4 L333.5,1150.5 L334.2,1157.7 L335.0,1171.3 L335.8,1156.1 L336.5,1160.4 L337.2,1164.5 L338.0,1154.0 L338.8,1144.8 L339.5,1151.0 L340.2,1165.2 L341.0,1141.5 L341.8,1150.6 L342.5,1164.6 L343.2,1162.8 L344.0,1155.9 L344.8,1162.9 L345.5,1157.4 L346.2,1145.7 L347.0,1142.3 L347.8,1150.4 L348.5,1164.0 L349.2,1151.1 L350.0,1148.1 L350.8,1149.3 L351.5,1142.7 L352.2,1155.0 L353.0,1145.8 L353.8,1159.2 L354.5,1135.5 L355.2,1159.0 L356.0,1150.5 L356.8,1139.2 L357.5,1162.5 L358.2,1153.8 L359.0,1136.8 L359.8,1148.6 L360.5,1158.8 L361.2,1152.2 L362.0,1163.0 L362.8,1162.8 L363.5,1162.1 L364.2,1159.1 L365.0,1167.9 L365.8,1162.1 L366.5,1160.3 L367.2,1138.2 L368.0,1164.2 L368.8,1167.8 L369.5,1153.8 L370.2,1152.3 L371.0,1173.3 L371.8,1141.2 L372.5,1160.5 L373.2,1177.6 L374.0,1148.4 L374.8,1162.5 L375.5,1172.9 L376.2,1155.5 L377.0,1161.4 L377.8,1164.4 L378.5,1148.7 L379.2,1155.8 L380.0,1159.2 L380.8,1163.8 L381.5,1156.3 L382.2,1155.0 L383.0,1147.8 L383.8,1153.6 L384.5,1164.5 L385.2,1157.6 L386.0,1149.3 L386.8,1149.4 L387.5,1179.9 L388.2,1166.7 L389.0,1162.3 L389.8,1134.3 L390.5,1162.2 L391.2,1161.0 L392.0,1171.5 L392.8,1160.6 L393.5,1156.3 L394.2,1161.4 L395.0,1140.0 L395.8,1165.9 L396.5,1159.8 L397.2,1150.8 L398.0,1168.5 L398.8,1172.7 L399.5,1144.8 L400.2,1151.2 L401.0,1159.6 L401.8,1158.7 L402.5,1153.7 L403.2,1148.7 L404.0,1175.7 L404.8,1166.3 L405.5,1147.0 L406.2,1145.7 L407.0,1172.2 L407.8,1166.1 L408.5,1173.3 L409.2,1164.6 L410.0,1150.0 L410.8,1159.9 L411.5,1139.0 L412.2,1151.3 L413.0,1157.3 L413.8,1162.4 L414.5,1151.6 L415.2,1156.9 L416.0,1162.0 L416.8,1161.3 L417.5,1163.6 L418.2,1159.9 L419.0,1155.4 L419.8,1165.0 L420.5,1158.7 L421.2,1151.1 L422.0,1152.9 L422.8,1158.4 L423.5,1157.5 L424.2,1159.8 L425.0,1158.5 L425.8,1160.1 L426.5,1157.4 L427.2,1147.8 L428.0,1162.4 L428.8,1167.9 L429.5,1162.6 L430.2,1157.2 L431.0,1162.7 L431.8,1150.6 L432.5,1142.6 L433.2,1159.5 L434.0,1151.0 L434.8,1165.5 L435.5,1149.8 L436.2,1136.4 L437.0,1150.2 L437.8,1172.9 L438.5,1156.0 L439.2,1147.5 L440.0,1152.8 L440.8,1164.0 L441.5,1163.8 L442.2,1161.1 L443.0,1172.4 L443.8,1165.7 L444.5,1159.5 L445.2,1164.9 L446.0,1174.1 L446.8,1168.2 L447.5,1168.7 L448.2,1150.5 L449.0,1158.7 L449.8,1166.3 L450.5,1157.4 L451.2,1169.2 L452.0,1165.2 L452.8,1167.9 L453.5,1158.2 L454.2,1182.0 L455.0,1170.7 L455.8,1158.2 L456.5,1160.8 L457.2,1182.4 L458.0,1157.1 L458.8,1167.6 L459.5,1168.5 L460.2,1160.1 L461.0,1150.0 L461.8,1161.7 L462.5,1163.1 L463.2,1169.8 L464.0,1166.8 L464.8,1160.2 L465.5,1167.4 L466.2,1164.7 L467.0,1161.8 L467.8,1160.5 L468.5,1157.9 L469.2,1166.0 L470.0,1151.0 L470.8,1154.6 L471.5,1160.1 L472.2,1147.4 L473.0,1156.3 L473.8,1142.7 L474.5,1154.2 L475.2,1164.9 L476.0,1164.9 L476.8,1159.6 L477.5,1158.1 L478.2,1147.9 L479.0,1175.8 L479.8,1164.5 L480.5,1169.5 L481.2,1152.5 L482.0,1158.5 L482.8,1144.4 L483.5,1166.8 L484.2,1168.1 L485.0,1143.7 L485.8,1159.6 L486.5,1165.5 L487.2,1144.9 L488.0,1144.3 L488.8,1150.9 L489.5,1154.6 L490.2,1148.0 L491.0,1160.3 L491.8,1162.2 L492.5,1165.5 L493.2,1166.1 L494.0,1172.9 L494.8,1170.0 L495.5,1148.8 L496.2,1155.7 L497.0,1150.9 L497.8,1150.8 L498.5,1159.3 L499.2,1160.1 L500.0,1164.2 L500.8,1146.3 L501.5,1149.1 L502.2,1159.4 L503.0,1157.7 L503.8,1156.6 L504.5,1158.6 L505.2,1152.5 L506.0,1164.8 L506.8,1161.7 L507.5,1157.8 L508.2,1152.6 L509.0,1156.8 L509.8,1134.8 L510.5,1149.6 L511.2,1158.1 L512.0,1144.8 L512.8,1159.2 L513.5,1158.6 L514.2,1145.4 L515.0,1154.9 L515.8,1154.2 L516.5,1160.7 L517.2,1161.8 L518.0,1156.2 L518.8,1149.1 L519.5,1154.9 L520.2,1155.5 L521.0,1162.1 L521.8,1158.2 L522.5,1149.4 L523.2,1143.9 L524.0,1152.1 L524.8,1148.8 L525.5,1145.5 L526.2,1153.8 L527.0,1150.5 L527.8,1155.4 L528.5,1158.8 L529.2,1150.7 L530.0,1173.8 L530.8,1151.2 L531.5,1163.1 L532.2,1154.6 L533.0,1162.9 L533.8,1133.1 L534.5,1146.8 L535.2,1155.1 L536.0,1157.9 L536.8,1172.5 L537.5,1155.3 L538.2,1163.2 L539.0,1158.7 L539.8,1160.1 L540.5,1156.3 L541.2,1150.7 L542.0,1156.3 L542.8,1142.8 L543.5,1161.9 L544.2,1143.3 L545.0,1154.0 L545.8,1169.8 L546.5,1150.0 L547.2,1152.0 L548.0,1161.6 L548.8,1152.0 L549.5,1145.0 L550.2,1153.9 L551.0,1156.6 L551.8,1157.7 L552.5,1145.2 L553.2,1166.4 L554.0,1165.7 L554.8,1151.8 L555.5,1153.8 L556.2,1148.0 L557.0,1163.4 L557.8,1145.6 L558.5,1157.1 L559.2,1147.4 L560.0,1145.6 L560.8,1157.4 L561.5,1162.6 L562.2,1151.3 L563.0,1145.6 L563.8,1158.1 L564.5,1150.8 L565.2,1153.8 L566.0,1163.9 L566.8,1160.6 L567.5,1146.8 L568.2,1170.1 L569.0,1151.1 L569.8,1157.6 L570.5,1145.5 L571.2,1150.3 L572.0,1135.9 L572.8,1165.1 L573.5,1161.4 L574.2,1139.8 L575.0,1137.2 L575.8,1136.0 L576.5,1159.0 L577.2,1145.2 L578.0,1148.3 L578.8,1146.0 L579.5,1147.4 L580.2,1139.2 L581.0,1148.2 L581.8,1135.9 L582.5,1146.9 L583.2,1149.9 L584.0,1150.9 L584.8,1145.0 L585.5,1139.2 L586.2,1147.7 L587.0,1142.2 L587.8,1158.8 L588.5,1152.0 L589.2,1144.6 L590.0,1141.4 L590.8,1139.3 L591.5,1137.2 L592.2,1141.7 L593.0,1146.7 L593.8,1148.3 L594.5,1148.5 L595.2,1160.7 L596.0,1137.6 L596.8,1143.2 L597.5,1165.5 L598.2,1127.5 L599.0,1138.1 L599.8,1143.5 L600.5,1143.3 L601.2,1145.4 L602.0,1140.3 L602.8,1145.3 L603.5,1142.9 L604.2,1148.7 L605.0,1127.5 L605.8,1135.6 L606.5,1142.7 L607.2,1134.6 L608.0,1134.6 L608.8,1147.9 L609.5,1137.9 L610.2,1148.1 L611.0,1149.0 L611.8,1145.5 L612.5,1147.2 L613.2,1142.4 L614.0,1132.2 L614.8,1143.0 L615.5,1146.8 L616.2,1139.1 L617.0,1142.5 L617.8,1149.0 L618.5,1136.4 L619.2,1148.1 L620.0,1157.4 L620.8,1138.9 L621.5,1144.2 L622.2,1141.5 L623.0,1153.2 L623.8,1142.8 L624.5,1146.0 L625.2,1132.9 L626.0,1136.8 L626.8,1135.7 L627.5,1121.4 L628.2,1144.0 L629.0,1138.8 L629.8,1118.1 L630.5,1135.0 L631.2,1127.4 L632.0,1130.2 L632.8,1128.5 L633.5,1114.0 L634.2,1122.0 L635.0,1132.8 L635.8,1117.0 L636.5,1112.6 L637.2,1109.0 L638.0,1108.6 L638.8,1117.8 L639.5,1125.4 L640.2,1115.7 L641.0,1113.8 L641.8,1126.0 L642.5,1107.2 L643.2,1105.4 L644.0,1112.0 L644.8,1110.9 L645.5,1100.0 L646.2,1097.8 L647.0,1105.0 L647.8,1102.9 L648.5,1092.0 L649.2,1096.1 L650.0,1091.7 L650.8,1094.3 L651.5,1088.0 L652.2,1084.5 L653.0,1079.1 L653.8,1081.2 L654.5,1077.3 L655.2,1063.5 L656.0,1061.9 L656.8,1047.9 L657.5,1042.8 L658.2,1036.0 L659.0,1028.1 L659.8,1010.4 L660.5,999.3 L661.2,987.2 L662.0,969.2 L662.8,960.1 L663.5,945.7 L664.2,937.2 L665.0,924.9 L665.8,917.3 L666.5,919.9 L667.2,922.3 L668.0,926.0 L668.8,938.1 L669.5,946.3 L670.2,957.9 L671.0,973.9 L671.8,981.3 L672.5,996.5 L673.2,1010.4 L674.0,1024.4 L674.8,1031.1 L675.5,1041.8 L676.2,1046.4 L677.0,1057.2 L677.8,1069.1 L678.5,1065.1 L679.2,1082.8 L680.0,1074.2 L680.8,1080.8 L681.5,1084.6 L682.2,1091.2 L683.0,1083.0 L683.8,1080.8 L684.5,1095.0 L685.2,1097.0 L686.0,1096.6 L686.8,1106.3 L687.5,1094.6 L688.2,1094.4 L689.0,1097.0 L689.8,1093.5 L690.5,1098.5 L691.2,1083.6 L692.0,1086.0 L692.8,1070.2 L693.5,1087.4 L694.2,1079.6 L695.0,1082.5 L695.8,1084.5 L696.5,1071.7 L697.2,1066.5 L698.0,1060.9 L698.8,1054.3 L699.5,1049.0 L700.2,1046.6 L701.0,1036.3 L701.8,1027.0 L702.5,1015.4 L703.2,1006.1 L704.0,990.3 L704.8,971.8 L705.5,954.7 L706.2,930.8 L707.0,903.8 L707.8,880.9 L708.5,847.3 L709.2,809.6 L710.0,773.7 L710.8,729.8 L711.5,680.7 L712.2,634.5 L713.0,579.8 L713.8,524.4 L714.5,466.0 L715.2,407.3 L716.0,348.3 L716.8,294.8 L717.5,243.1 L718.2,198.7 L719.0,164.0 L719.8,140.0 L720.5,129.5 L721.2,131.4 L722.0,147.6 L722.8,174.4 L723.5,214.1 L724.2,261.4 L725.0,314.1 L725.8,368.4 L726.5,425.7 L727.2,484.4 L728.0,538.3 L728.8,592.8 L729.5,644.5 L730.2,689.7 L731.0,734.8 L731.8,771.6 L732.5,808.8 L733.2,840.3 L734.0,869.0 L734.8,896.0 L735.5,920.6 L736.2,932.4 L737.0,948.5 L737.8,964.6 L738.5,971.7 L739.2,985.2 L740.0,993.0 L740.8,996.5 L741.5,1003.5 L742.2,1000.3 L743.0,1009.7 L743.8,1003.6 L744.5,1006.4 L745.2,1006.1 L746.0,1005.0 L746.8,1006.5 L747.5,1000.8 L748.2,995.2 L749.0,993.1 L749.8,990.2 L750.5,978.9 L751.2,972.3 L752.0,966.0 L752.8,953.9 L753.5,939.7 L754.2,937.5 L755.0,924.5 L755.8,902.3 L756.5,893.0 L757.2,880.0 L758.0,866.9 L758.8,852.4 L759.5,837.3 L760.2,823.6 L761.0,814.8 L761.8,807.7 L762.5,798.0 L763.2,794.9 L764.0,796.4 L764.8,796.4 L765.5,805.3 L766.2,813.8 L767.0,826.6 L767.8,837.5 L768.5,851.5 L769.2,867.5 L770.0,883.7 L770.8,897.9 L771.5,914.6 L772.2,931.2 L773.0,946.5 L773.8,961.4 L774.5,967.5 L775.2,980.3 L776.0,985.0 L776.8,1008.6 L777.5,1009.7 L778.2,1020.7 L779.0,1030.7 L779.8,1031.1 L780.5,1044.7 L781.2,1049.0 L782.0,1047.2 L782.8,1061.1 L783.5,1069.9 L784.2,1060.6 L785.0,1076.7 L785.8,1077.6 L786.5,1082.3 L787.2,1085.2 L788.0,1092.4 L788.8,1087.3 L789.5,1095.4 L790.2,1090.9 L791.0,1099.1 L791.8,1092.5 L792.5,1098.2 L793.2,1110.3 L794.0,1104.5 L794.8,1102.5 L795.5,1098.0 L796.2,1101.3 L797.0,1108.3 L797.8,1114.0 L798.5,1111.9 L799.2,1113.5 L800.0,1110.9 L800.8,1120.6 L801.5,1110.3 L802.2,1110.0 L803.0,1120.0 L803.8,1115.4 L804.5,1113.7 L805.2,1112.4 L806.0,1115.0 L806.8,1121.4 L807.5,1120.2 L808.2,1110.0 L809.0,1121.6 L809.8,1120.3 L810.5,1112.6 L811.2,1125.2 L812.0,1118.3 L812.8,1118.2 L813.5,1126.5 L814.2,1130.5 L815.0,1116.6 L815.8,1124.9 L816.5,1115.8 L817.2,1138.8 L818.0,1118.9 L818.8,1131.3 L819.5,1118.2 L820.2,1128.8 L821.0,1139.0 L821.8,1104.2 L822.5,1119.4 L823.2,1126.1 L824.0,1121.6 L824.8,1117.1 L825.5,1137.8 L826.2,1122.3 L827.0,1109.3 L827.8,1127.7 L828.5,1108.2 L829.2,1129.5 L830.0,1116.3 L830.8,1121.5 L831.5,1129.6 L832.2,1120.8 L833.0,1109.2 L833.8,1106.6 L834.5,1128.1 L835.2,1124.5 L836.0,1112.4 L836.8,1124.8 L837.5,1121.8 L838.2,1122.6 L839.0,1100.2 L839.8,1114.8 L840.5,1124.0 L841.2,1123.0 L842.0,1124.3 L842.8,1098.9 L843.5,1119.2 L844.2,1121.9 L845.0,1137.9 L845.8,1111.1 L846.5,1116.1 L847.2,1119.1 L848.0,1125.8 L848.8,1115.7 L849.5,1128.1 L850.2,1113.3 L851.0,1121.6 L851.8,1115.6 L852.5,1121.1 L853.2,1114.6 L854.0,1107.7 L854.8,1128.7 L855.5,1122.7 L856.2,1116.1 L857.0,1122.1 L857.8,1128.4 L858.5,1113.2 L859.2,1120.0 L860.0,1125.2 L860.8,1124.8 L861.5,1117.8 L862.2,1103.8 L863.0,1129.5 L863.8,1122.1 L864.5,1119.4 L865.2,1116.8 L866.0,1120.7 L866.8,1115.1 L867.5,1110.1 L868.2,1112.0 L869.0,1112.8 L869.8,1112.3 L870.5,1107.8 L871.2,1121.3 L872.0,1105.9 L872.8,1120.7 L873.5,1107.5 L874.2,1117.6 L875.0,1125.1 L875.8,1115.7 L876.5,1108.2 L877.2,1113.7 L878.0,1114.1 L878.8,1099.4 L879.5,1107.5 L880.2,1112.9 L881.0,1107.7 L881.8,1111.4 L882.5,1115.8 L883.2,1115.6 L884.0,1116.1 L884.8,1113.2 L885.5,1106.1 L886.2,1107.6 L887.0,1105.2 L887.8,1104.3 L888.5,1104.7 L889.2,1092.8 L890.0,1102.4 L890.8,1104.0 L891.5,1096.4 L892.2,1102.6 L893.0,1105.8 L893.8,1100.1 L894.5,1115.3 L895.2,1081.4 L896.0,1097.9 L896.8,1086.1 L897.5,1105.1 L898.2,1116.0 L899.0,1080.0 L899.8,1097.3 L900.5,1099.2 L901.2,1092.8 L902.0,1097.6 L902.8,1078.3 L903.5,1097.5 L904.2,1093.3 L905.0,1089.8 L905.8,1084.6 L906.5,1090.8 L907.2,1082.3 L908.0,1084.8 L908.8,1078.6 L909.5,1066.5 L910.2,1076.9 L911.0,1075.6 L911.8,1075.7 L912.5,1063.8 L913.2,1064.6 L914.0,1063.9 L914.8,1057.0 L915.5,1057.1 L916.2,1054.6 L917.0,1035.4 L917.8,1024.3 L918.5,1027.7 L919.2,1021.2 L920.0,1008.9 L920.8,997.3 L921.5,980.4 L922.2,966.8 L923.0,956.8 L923.8,936.0 L924.5,916.9 L925.2,901.2 L926.0,890.6 L926.8,870.6 L927.5,847.2 L928.2,830.6 L929.0,818.0 L929.8,804.9 L930.5,800.8 L931.2,794.9 L932.0,794.0 L932.8,803.2 L933.5,808.8 L934.2,822.4 L935.0,836.7 L935.8,852.7 L936.5,871.8 L937.2,887.9 L938.0,903.4 L938.8,919.9 L939.5,939.0 L940.2,956.0 L941.0,972.8 L941.8,986.5 L942.5,1000.5 L943.2,1010.2 L944.0,1016.8 L944.8,1026.1 L945.5,1028.2 L946.2,1043.5 L947.0,1053.0 L947.8,1059.1 L948.5,1061.3 L949.2,1065.7 L950.0,1075.6 L950.8,1074.7 L951.5,1082.1 L952.2,1084.4 L953.0,1085.2 L953.8,1094.2 L954.5,1085.6 L955.2,1089.0 L956.0,1088.2 L956.8,1090.0 L957.5,1106.4 L958.2,1109.4 L959.0,1099.8 L959.8,1104.7 L960.5,1110.0 L961.2,1108.8 L962.0,1112.7 L962.8,1097.1 L963.5,1102.3 L964.2,1110.6 L965.0,1118.3 L965.8,1110.0 L966.5,1104.0 L967.2,1108.2 L968.0,1106.7 L968.8,1106.0 L969.5,1123.5 L970.2,1108.8 L971.0,1114.0 L971.8,1130.2 L972.5,1123.6 L973.2,1117.9 L974.0,1111.4 L974.8,1119.4 L975.5,1128.8 L976.2,1121.8 L977.0,1127.0 L977.8,1118.7 L978.5,1122.2 L979.2,1117.2 L980.0,1122.2 L980.8,1128.9 L981.5,1108.3 L982.2,1118.7 L983.0,1121.0 L983.8,1114.9 L984.5,1116.9 L985.2,1125.2 L986.0,1134.5 L986.8,1124.0 L987.5,1121.6 L988.2,1107.2 L989.0,1133.8 L989.8,1119.5 L990.5,1118.6 L991.2,1110.2 L992.0,1118.2 L992.8,1110.1 L993.5,1119.0 L994.2,1121.9 L995.0,1118.4 L995.8,1120.2 L996.5,1111.3 L997.2,1128.7 L998.0,1112.5 L998.8,1103.4 L999.5,1115.7 L1000.2,1111.0 L1001.0,1108.8 L1001.8,1113.4 L1002.5,1117.9 L1003.2,1106.2 L1004.0,1113.7 L1004.8,1125.2 L1005.5,1119.0 L1006.2,1112.2 L1007.0,1113.8 L1007.8,1111.4 L1008.5,1111.4 L1009.2,1116.7 L1010.0,1109.9 L1010.8,1092.1 L1011.5,1109.2 L1012.2,1102.1 L1013.0,1112.8 L1013.8,1102.8 L1014.5,1107.6 L1015.2,1121.7 L1016.0,1098.0 L1016.8,1097.1 L1017.5,1094.7 L1018.2,1087.4 L1019.0,1090.6 L1019.8,1105.7 L1020.5,1098.1 L1021.2,1089.0 L1022.0,1090.9 L1022.8,1104.1 L1023.5,1093.8 L1024.2,1095.3 L1025.0,1098.5 L1025.8,1103.4 L1026.5,1105.2 L1027.2,1097.5 L1028.0,1089.9 L1028.8,1087.6 L1029.5,1094.1 L1030.2,1088.7 L1031.0,1075.6 L1031.8,1075.9 L1032.5,1070.6 L1033.2,1064.7 L1034.0,1056.8 L1034.8,1047.4 L1035.5,1044.7 L1036.2,1033.7 L1037.0,1037.7 L1037.8,1027.0 L1038.5,1012.4 L1039.2,1013.4 L1040.0,1003.1 L1040.8,986.0 L1041.5,990.5 L1042.2,980.9 L1043.0,979.5 L1043.8,966.3 L1044.5,969.8 L1045.2,969.7 L1046.0,971.1 L1046.8,974.7 L1047.5,982.7 L1048.2,981.3 L1049.0,989.3 L1049.8,996.8 L1050.5,1008.0 L1051.2,1016.3 L1052.0,1028.4 L1052.8,1036.3 L1053.5,1043.2 L1054.2,1047.6 L1055.0,1055.4 L1055.8,1068.3 L1056.5,1073.4 L1057.2,1075.5 L1058.0,1078.2 L1058.8,1092.7 L1059.5,1085.1 L1060.2,1095.8 L1061.0,1102.1 L1061.8,1096.8 L1062.5,1106.2 L1063.2,1096.6 L1064.0,1112.3 L1064.8,1109.2 L1065.5,1099.4 L1066.2,1116.0 L1067.0,1107.1 L1067.8,1123.4 L1068.5,1111.3 L1069.2,1116.1 L1070.0,1120.4 L1070.8,1117.1 L1071.5,1122.4 L1072.2,1117.5 L1073.0,1127.3 L1073.8,1123.3 L1074.5,1125.6 L1075.2,1104.4 L1076.0,1134.3 L1076.8,1126.5 L1077.5,1113.5 L1078.2,1128.3 L1079.0,1131.8 L1079.8,1137.0 L1080.5,1120.9 L1081.2,1141.5 L1082.0,1128.6 L1082.8,1148.7 L1083.5,1129.2 L1084.2,1135.9 L1085.0,1127.9 L1085.8,1122.3 L1086.5,1139.9 L1087.2,1138.6 L1088.0,1143.8 L1088.8,1138.6 L1089.5,1127.4 L1090.2,1118.8 L1091.0,1127.0 L1091.8,1126.9 L1092.5,1125.9 L1093.2,1137.3 L1094.0,1135.3 L1094.8,1130.6 L1095.5,1134.3 L1096.2,1131.8 L1097.0,1134.8 L1097.8,1139.3 L1098.5,1141.0 L1099.2,1127.8 L1100.0,1121.1 L1100.8,1145.1 L1101.5,1134.5 L1102.2,1142.6 L1103.0,1120.2 L1103.8,1131.0 L1104.5,1134.0 L1105.2,1122.0 L1106.0,1129.6 L1106.8,1139.8 L1107.5,1142.7 L1108.2,1147.0 L1109.0,1126.9 L1109.8,1122.5 L1110.5,1138.3 L1111.2,1141.7 L1112.0,1135.5 L1112.8,1123.1 L1113.5,1140.2 L1114.2,1140.3 L1115.0,1138.2 L1115.8,1129.6 L1116.5,1136.0 L1117.2,1140.0 L1118.0,1128.8 L1118.8,1118.1 L1119.5,1136.0 L1120.2,1137.2 L1121.0,1133.2 L1121.8,1140.4 L1122.5,1128.1 L1123.2,1132.2 L1124.0,1130.3 L1124.8,1137.5 L1125.5,1145.9 L1126.2,1130.5 L1127.0,1149.6 L1127.8,1145.2 L1128.5,1138.9 L1129.2,1137.2 L1130.0,1146.9 L1130.8,1130.6 L1131.5,1131.1 L1132.2,1123.1 L1133.0,1135.8 L1133.8,1143.0 L1134.5,1136.1 L1135.2,1135.1 L1136.0,1129.8 L1136.8,1132.8 L1137.5,1119.4 L1138.2,1140.0 L1139.0,1127.7 L1139.8,1121.8 L1140.5,1124.7 L1141.2,1124.1 L1142.0,1138.2 L1142.8,1139.9 L1143.5,1119.7 L1144.2,1138.8 L1145.0,1138.5 L1145.8,1126.2 L1146.5,1118.7 L1147.2,1124.9 L1148.0,1125.8 L1148.8,1134.0 L1149.5,1128.1 L1150.2,1114.2 L1151.0,1133.1 L1151.8,1118.3 L1152.5,1138.7 L1153.2,1121.0 L1154.0,1125.3 L1154.8,1124.0 L1155.5,1126.6 L1156.2,1141.9 L1157.0,1138.2 L1157.8,1136.1 L1158.5,1133.8 L1159.2,1118.2 L1160.0,1126.8 L1160.8,1126.5 L1161.5,1122.9 L1162.2,1135.3 L1163.0,1124.9 L1163.8,1125.2 L1164.5,1122.4 L1165.2,1113.9 L1166.0,1136.0 L1166.8,1142.1 L1167.5,1132.5 L1168.2,1122.9 L1169.0,1108.5 L1169.8,1132.4 L1170.5,1141.1 L1171.2,1133.4 L1172.0,1138.6 L1172.8,1143.2 L1173.5,1140.2 L1174.2,1127.1 L1175.0,1139.5 L1175.8,1137.2 L1176.5,1117.9 L1177.2,1127.3 L1178.0,1118.8 L1178.8,1129.7 L1179.5,1135.3 L1180.2,1121.6 L1181.0,1113.4 L1181.8,1141.2 L1182.5,1133.5 L1183.2,1142.5 L1184.0,1119.3 L1184.8,1139.0 L1185.5,1147.3 L1186.2,1146.7 L1187.0,1128.3 L1187.8,1132.2 L1188.5,1128.7 L1189.2,1138.1 L1190.0,1138.4 L1190.8,1130.5 L1191.5,1118.5 L1192.2,1135.8 L1193.0,1125.7 L1193.8,1134.7 L1194.5,1131.7 L1195.2,1142.8 L1196.0,1138.7 L1196.8,1125.6 L1197.5,1132.1 L1198.2,1143.6 L1199.0,1124.7 L1199.8,1132.6 L1200.5,1138.7 L1201.2,1139.2 L1202.0,1133.1 L1202.8,1117.9 L1203.5,1118.4 L1204.2,1130.6 L1205.0,1131.7 L1205.8,1149.2 L1206.5,1121.3 L1207.2,1137.5 L1208.0,1134.4 L1208.8,1114.5 L1209.5,1121.3 L1210.2,1129.2 L1211.0,1123.8 L1211.8,1126.4 L1212.5,1131.3 L1213.2,1120.9 L1214.0,1131.0 L1214.8,1122.0 L1215.5,1122.6 L1216.2,1131.2 L1217.0,1122.1 L1217.8,1128.8 L1218.5,1139.1 L1219.2,1126.4 L1220.0,1124.8 L1220.8,1131.6 L1221.5,1122.6 L1222.2,1133.7 L1223.0,1114.7 L1223.8,1129.4 L1224.5,1120.2 L1225.2,1117.6 L1226.0,1137.3 L1226.8,1116.5 L1227.5,1136.3 L1228.2,1127.4 L1229.0,1133.0 L1229.8,1113.9 L1230.5,1130.1 L1231.2,1131.5 L1232.0,1119.0 L1232.8,1118.4 L1233.5,1137.2 L1234.2,1119.6 L1235.0,1114.5 L1235.8,1112.4 L1236.5,1119.6 L1237.2,1118.1 L1238.0,1116.3 L1238.8,1126.6 L1239.5,1111.2 L1240.2,1116.2 L1241.0,1122.3 L1241.8,1104.3 L1242.5,1117.7 L1243.2,1122.3 L1244.0,1099.6 L1244.8,1100.6 L1245.5,1100.3 L1246.2,1094.1 L1247.0,1108.7 L1247.8,1092.6 L1248.5,1107.4 L1249.2,1112.8 L1250.0,1092.2 L1250.8,1099.9 L1251.5,1089.0 L1252.2,1105.7 L1253.0,1095.4 L1253.8,1097.9 L1254.5,1099.5 L1255.2,1102.2 L1256.0,1096.2 L1256.8,1098.2 L1257.5,1094.5 L1258.2,1098.4 L1259.0,1090.3 L1259.8,1097.9 L1260.5,1085.4 L1261.2,1094.4 L1262.0,1109.5 L1262.8,1098.1 L1263.5,1089.8 L1264.2,1099.4 L1265.0,1091.8 L1265.8,1087.6 L1266.5,1093.5 L1267.2,1102.9 L1268.0,1100.7 L1268.8,1097.7 L1269.5,1092.5 L1270.2,1091.6 L1271.0,1107.0 L1271.8,1099.9 L1272.5,1092.3 L1273.2,1084.8 L1274.0,1089.3 L1274.8,1113.6 L1275.5,1090.3 L1276.2,1096.8 L1277.0,1098.3 L1277.8,1095.6 L1278.5,1094.4 L1279.2,1087.0 L1280.0,1088.5 L1280.8,1104.9 L1281.5,1089.1 L1282.2,1098.1 L1283.0,1081.8 L1283.8,1089.5 L1284.5,1091.7 L1285.2,1095.2 L1286.0,1081.2 L1286.8,1090.0 L1287.5,1087.4 L1288.2,1079.4 L1289.0,1084.7 L1289.8,1075.2 L1290.5,1073.9 L1291.2,1076.1 L1292.0,1059.5 L1292.8,1070.8 L1293.5,1063.6 L1294.2,1058.4 L1295.0,1060.4 L1295.8,1062.5 L1296.5,1053.1 L1297.2,1056.5 L1298.0,1040.9 L1298.8,1035.3 L1299.5,1041.6 L1300.2,1030.5 L1301.0,1025.7 L1301.8,1011.5 L1302.5,1009.0 L1303.2,998.0 L1304.0,989.2 L1304.8,976.4 L1305.5,968.0 L1306.2,949.8 L1307.0,935.1 L1307.8,918.9 L1308.5,909.2 L1309.2,887.6 L1310.0,868.8 L1310.8,849.9 L1311.5,830.8 L1312.2,808.5 L1313.0,789.0 L1313.8,767.1 L1314.5,746.1 L1315.2,725.1 L1316.0,707.5 L1316.8,689.5 L1317.5,675.4 L1318.2,663.6 L1319.0,655.1 L1319.8,646.8 L1320.5,647.6 L1321.2,649.7 L1322.0,657.7 L1322.8,664.0 L1323.5,677.4 L1324.2,692.8 L1325.0,709.7 L1325.8,730.3 L1326.5,747.8 L1327.2,770.5 L1328.0,787.2 L1328.8,807.1 L1329.5,832.9 L1330.2,851.1 L1331.0,870.1 L1331.8,887.2 L1332.5,905.0 L1333.2,916.6 L1334.0,936.9 L1334.8,946.6 L1335.5,963.6 L1336.2,972.7 L1337.0,976.8 L1337.8,988.6 L1338.5,1005.8 L1339.2,1009.5 L1340.0,1015.9 L1340.8,1025.1 L1341.5,1028.6 L1342.2,1033.6 L1343.0,1041.4 L1343.8,1046.2 L1344.5,1056.7 L1345.2,1053.7 L1346.0,1066.1 L1346.8,1069.1 L1347.5,1071.7 L1348.2,1071.1 L1349.0,1068.7 L1349.8,1071.0 L1350.5,1071.5 L1351.2,1070.1 L1352.0,1075.6 L1352.8,1073.9 L1353.5,1088.6 L1354.2,1083.6 L1355.0,1079.1 L1355.8,1071.5 L1356.5,1083.8 L1357.2,1082.6 L1358.0,1079.4 L1358.8,1080.0 L1359.5,1073.8 L1360.2,1092.4 L1361.0,1089.1 L1361.8,1106.9 L1362.5,1090.8 L1363.2,1090.6 L1364.0,1101.7 L1364.8,1093.7 L1365.5,1094.4 L1366.2,1091.3 L1367.0,1090.2 L1367.8,1104.9 L1368.5,1102.0 L1369.2,1107.3 L1370.0,1093.5 L1370.8,1096.5 L1371.5,1090.5 L1372.2,1103.6 L1373.0,1087.5 L1373.8,1101.4 L1374.5,1105.4 L1375.2,1107.8 L1376.0,1091.5 L1376.8,1106.0 L1377.5,1093.4 L1378.2,1093.3 L1379.0,1089.4 L1379.8,1107.2 L1380.5,1111.1 L1381.2,1095.4 L1382.0,1094.6 L1382.8,1098.0 L1383.5,1118.8 L1384.2,1108.4 L1385.0,1097.5 L1385.8,1088.8 L1386.5,1097.2 L1387.2,1111.0 L1388.0,1116.2 L1388.8,1101.0 L1389.5,1098.2 L1390.2,1099.8 L1391.0,1090.0 L1391.8,1110.6 L1392.5,1096.3 L1393.2,1112.2 L1394.0,1092.2 L1394.8,1095.7 L1395.5,1107.3 L1396.2,1100.0 L1397.0,1111.6 L1397.8,1106.2 L1398.5,1097.9 L1399.2,1111.3 L1400.0,1113.2 L1400.8,1093.4 L1401.5,1120.9 L1402.2,1111.5 L1403.0,1113.6 L1403.8,1094.8 L1404.5,1103.3 L1405.2,1106.3 L1406.0,1116.8 L1406.8,1098.6 L1407.5,1103.0 L1408.2,1094.9 L1409.0,1108.0 L1409.8,1112.4 L1410.5,1097.7 L1411.2,1105.5 L1412.0,1113.2 L1412.8,1120.6 L1413.5,1113.8 L1414.2,1106.7 L1415.0,1100.2 L1415.8,1101.7 L1416.5,1103.4 L1417.2,1108.8 L1418.0,1107.2 L1418.8,1118.9 L1419.5,1108.9 L1420.2,1099.1 L1421.0,1116.9 L1421.8,1112.4 L1422.5,1106.1 L1423.2,1100.0 L1424.0,1091.8 L1424.8,1097.1 L1425.5,1109.8 L1426.2,1097.7 L1427.0,1093.7 L1427.8,1103.4 L1428.5,1103.1 L1429.2,1104.9 L1430.0,1104.6 L1430.8,1108.8 L1431.5,1093.4 L1432.2,1104.5 L1433.0,1091.0 L1433.8,1101.0 L1434.5,1096.8 L1435.2,1096.3 L1436.0,1099.8 L1436.8,1092.7 L1437.5,1098.5 L1438.2,1095.9 L1439.0,1090.2 L1439.8,1084.8 L1440.5,1082.4 L1441.2,1082.3 L1442.0,1082.7 L1442.8,1082.1 L1443.5,1097.1 L1444.2,1082.2 L1445.0,1080.8 L1445.8,1070.0 L1446.5,1068.6 L1447.2,1068.2 L1448.0,1068.2 L1448.8,1059.3 L1449.5,1069.2 L1450.2,1055.5 L1451.0,1059.6 L1451.8,1040.2 L1452.5,1046.6 L1453.2,1043.3 L1454.0,1038.0 L1454.8,1034.4 L1455.5,1027.3 L1456.2,1020.7 L1457.0,1006.5 L1457.8,1003.6 L1458.5,990.3 L1459.2,991.8 L1460.0,981.6 L1460.8,970.2 L1461.5,957.8 L1462.2,947.3 L1463.0,941.6 L1463.8,928.3 L1464.5,910.3 L1465.2,899.1 L1466.0,877.9 L1466.8,862.0 L1467.5,849.3 L1468.2,832.8 L1469.0,817.7 L1469.8,803.8 L1470.5,794.1 L1471.2,774.6 L1472.0,763.9 L1472.8,754.3 L1473.5,746.0 L1474.2,742.0 L1475.0,740.4 L1475.8,735.6 L1476.5,740.0 L1477.2,744.1 L1478.0,752.1 L1478.8,758.2 L1479.5,768.7 L1480.2,780.0 L1481.0,798.3 L1481.8,812.2 L1482.5,827.0 L1483.2,837.5 L1484.0,856.7 L1484.8,871.0 L1485.5,884.2 L1486.2,899.5 L1487.0,917.1 L1487.8,929.8 L1488.5,940.7 L1489.2,953.8 L1490.0,961.5 L1490.8,973.7 L1491.5,983.1 L1492.2,993.6 L1493.0,999.7 L1493.8,1007.0 L1494.5,1014.0 L1495.2,1018.5 L1496.0,1035.6 L1496.8,1034.5 L1497.5,1039.2 L1498.2,1051.9 L1499.0,1052.6 L1499.8,1043.4 L1500.5,1057.3 L1501.2,1061.4 L1502.0,1069.7 L1502.8,1070.0 L1503.5,1070.1 L1504.2,1062.6 L1505.0,1066.4 L1505.8,1074.5 L1506.5,1077.8 L1507.2,1071.4 L1508.0,1076.6 L1508.8,1078.1 L1509.5,1082.2 L1510.2,1085.2 L1511.0,1082.9 L1511.8,1078.6 L1512.5,1094.4 L1513.2,1097.7 L1514.0,1088.5 L1514.8,1096.4 L1515.5,1093.8 L1516.2,1096.0 L1517.0,1095.7 L1517.8,1088.7 L1518.5,1097.8 L1519.2,1101.3 L1520.0,1089.8 L1520.8,1108.7 L1521.5,1110.1 L1522.2,1109.0 L1523.0,1110.6 L1523.8,1103.0 L1524.5,1096.3 L1525.2,1095.0 L1526.0,1094.0 L1526.8,1100.5 L1527.5,1099.8 L1528.2,1104.9 L1529.0,1087.1 L1529.8,1116.5 L1530.5,1116.7 L1531.2,1101.8 L1532.0,1107.1 L1532.8,1106.2 L1533.5,1105.4 L1534.2,1102.6 L1535.0,1103.6 L1535.8,1099.3 L1536.5,1106.6 L1537.2,1105.6 L1538.0,1108.4 L1538.8,1100.7 L1539.5,1107.2 L1540.2,1107.6 L1541.0,1111.7 L1541.8,1100.6 L1542.5,1111.0 L1543.2,1115.2 L1544.0,1112.8 L1544.8,1106.4 L1545.5,1105.7 L1546.2,1107.5 L1547.0,1114.1 L1547.8,1119.7 L1548.5,1108.1 L1549.2,1104.8 L1550.0,1111.7 L1550.8,1110.4 L1551.5,1102.9 L1552.2,1103.9 L1553.0,1108.0 L1553.8,1113.0 L1554.5,1100.5 L1555.2,1101.4 L1556.0,1111.2 L1556.8,1099.6 L1557.5,1108.0 L1558.2,1109.2 L1559.0,1105.9 L1559.8,1099.6 L1560.5,1105.1 L1561.2,1102.6 L1562.0,1106.0 L1562.8,1097.8 L1563.5,1108.9 L1564.2,1090.8 L1565.0,1099.0 L1565.8,1099.0 L1566.5,1103.5 L1567.2,1092.9 L1568.0,1098.4 L1568.8,1090.4 L1569.5,1096.4 L1570.2,1100.4 L1571.0,1086.6 L1571.8,1089.4 L1572.5,1079.9 L1573.2,1088.0 L1574.0,1086.8 L1574.8,1078.1 L1575.5,1069.5 L1576.2,1074.3 L1577.0,1074.7 L1577.8,1070.8 L1578.5,1065.7 L1579.2,1049.6 L1580.0,1050.4 L1580.8,1054.5 L1581.5,1038.0 L1582.2,1041.7 L1583.0,1038.0 L1583.8,1026.4 L1584.5,1019.7 L1585.2,1006.0 L1586.0,993.5 L1586.8,986.6 L1587.5,974.7 L1588.2,962.3 L1589.0,950.2 L1589.8,932.4 L1590.5,916.3 L1591.2,898.2 L1592.0,877.2 L1592.8,859.3 L1593.5,833.7 L1594.2,809.0 L1595.0,783.9 L1595.8,758.5 L1596.5,737.2 L1597.2,712.7 L1598.0,690.6 L1598.8,674.2 L1599.5,661.6 L1600.2,652.5 L1601.0,650.5 L1601.8,648.3 L1602.5,655.5 L1603.2,664.1 L1604.0,674.9 L1604.8,692.1 L1605.5,710.0 L1606.2,731.0 L1607.0,751.3 L1607.8,775.0 L1608.5,794.7 L1609.2,818.4 L1610.0,844.2 L1610.8,866.2 L1611.5,884.3 L1612.2,901.9 L1613.0,923.4 L1613.8,931.6 L1614.5,949.6 L1615.2,967.3 L1616.0,979.6 L1616.8,985.6 L1617.5,992.7 L1618.2,1013.3 L1619.0,1017.1 L1619.8,1020.7 L1620.5,1031.2 L1621.2,1040.9 L1622.0,1031.9 L1622.8,1052.8 L1623.5,1056.0 L1624.2,1047.4 L1625.0,1064.6 L1625.8,1055.9 L1626.5,1073.5 L1627.2,1072.9 L1628.0,1085.4 L1628.8,1073.1 L1629.5,1078.7 L1630.2,1086.7 L1631.0,1079.4 L1631.8,1080.9 L1632.5,1084.6 L1633.2,1088.0 L1634.0,1083.5 L1634.8,1094.3 L1635.5,1096.1 L1636.2,1094.5 L1637.0,1105.8 L1637.8,1094.3 L1638.5,1105.7 L1639.2,1094.9 L1640.0,1104.3 L1640.8,1087.6 L1641.5,1102.4 L1642.2,1100.7 L1643.0,1099.3 L1643.8,1099.2 L1644.5,1101.6 L1645.2,1099.7 L1646.0,1090.0 L1646.8,1101.6 L1647.5,1102.4 L1648.2,1103.1 L1649.0,1099.8 L1649.8,1106.7 L1650.5,1113.7 L1651.2,1106.8 L1652.0,1105.4 L1652.8,1119.1 L1653.5,1116.8 L1654.2,1116.7 L1655.0,1118.8 L1655.8,1108.2 L1656.5,1109.9 L1657.2,1119.4 L1658.0,1107.3 L1658.8,1110.7 L1659.5,1114.7 L1660.2,1114.9 L1661.0,1110.2 L1661.8,1120.0 L1662.5,1111.4 L1663.2,1118.5 L1664.0,1121.3 L1664.8,1118.4 L1665.5,1119.1 L1666.2,1104.8 L1667.0,1103.7 L1667.8,1109.2 L1668.5,1117.7 L1669.2,1125.7 L1670.0,1104.8 L1670.8,1116.6 L1671.5,1107.6 L1672.2,1108.4 L1673.0,1111.5 L1673.8,1118.2 L1674.5,1113.3 L1675.2,1118.4 L1676.0,1099.6 L1676.8,1108.8 L1677.5,1104.1 L1678.2,1093.5 L1679.0,1091.8 L1679.8,1083.4 L1680.5,1080.8 L1681.2,1088.0 L1682.0,1091.1 L1682.8,1119.8 L1683.5,1101.6 L1684.2,1121.0 L1685.0,1113.3 L1685.8,1116.1 L1686.5,1120.8 L1687.2,1109.5 L1688.0,1123.5 L1688.8,1119.5 L1689.5,1104.6 L1690.2,1121.7 L1691.0,1121.5 L1691.8,1120.8 L1692.5,1130.1 L1693.2,1114.0 L1694.0,1121.6 L1694.8,1123.7 L1695.5,1110.3 L1696.2,1127.5 L1697.0,1106.0 L1697.8,1107.2 L1698.5,1122.2 L1699.2,1109.0 L1700.0,1117.0 L1700.8,1104.7 L1701.5,1118.9 L1702.2,1109.2 L1703.0,1121.5 L1703.8,1106.2 L1704.5,1122.7 L1705.2,1117.0 L1706.0,1119.8 L1706.8,1118.9 L1707.5,1120.7 L1708.2,1108.9 L1709.0,1098.7 L1709.8,1120.4 L1710.5,1112.5 L1711.2,1116.6 L1712.0,1124.1 L1712.8,1104.2 L1713.5,1114.5 L1714.2,1115.9 L1715.0,1112.3 L1715.8,1123.9 L1716.5,1120.2 L1717.2,1114.7 L1718.0,1113.5 L1718.8,1128.5 L1719.5,1116.4 L1720.2,1126.8 L1721.0,1125.6 L1721.8,1106.0 L1722.5,1112.6 L1723.2,1121.6 L1724.0,1124.3 L1724.8,1127.8 L1725.5,1127.9 L1726.2,1129.8 L1727.0,1117.9 L1727.8,1119.1 L1728.5,1127.3 L1729.2,1117.1 L1730.0,1129.4 L1730.8,1107.1 L1731.5,1125.8 L1732.2,1118.8 L1733.0,1103.6 L1733.8,1128.2 L1734.5,1122.5 L1735.2,1119.9 L1736.0,1110.6 L1736.8,1115.6 L1737.5,1132.1 L1738.2,1112.3 L1739.0,1090.0 L1739.8,1111.8 L1740.5,1108.9 L1741.2,1117.9 L1742.0,1115.7 L1742.8,1111.3 L1743.5,1111.9 L1744.2,1127.9 L1745.0,1106.9 L1745.8,1135.5 L1746.5,1114.5 L1747.2,1109.8 L1748.0,1125.7 L1748.8,1123.8 L1749.5,1110.3 L1750.2,1125.4 L1751.0,1103.5 L1751.8,1111.3 L1752.5,1128.5 L1753.2,1116.9 L1754.0,1108.1 L1754.8,1123.4 L1755.5,1126.8 L1756.2,1118.8 L1757.0,1103.8 L1757.8,1116.1 L1758.5,1122.5 L1759.2,1125.5 L1760.0,1134.6 L1760.8,1116.7 L1761.5,1114.5 L1762.2,1118.0 L1763.0,1128.3 L1763.8,1110.0 L1764.5,1128.8 L1765.2,1094.3 L1766.0,1124.0 L1766.8,1111.4 L1767.5,1120.8 L1768.2,1122.5 L1769.0,1106.5 L1769.8,1115.5 L1770.5,1118.0 L1771.2,1120.7 L1772.0,1107.7 L1772.8,1107.0 L1773.5,1098.9 L1774.2,1136.3 L1775.0,1113.0 L1775.8,1112.5 L1776.5,1101.6 L1777.2,1121.7 L1778.0,1109.2 L1778.8,1125.5 L1779.5,1120.3 L1780.2,1113.1 L1781.0,1118.8 L1781.8,1103.1 L1782.5,1109.5 L1783.2,1107.2 L1784.0,1101.1 L1784.8,1111.6 L1785.5,1110.0 L1786.2,1122.9 L1787.0,1082.7 L1787.8,1104.8 L1788.5,1102.5 L1789.2,1105.9 L1790.0,1113.0 L1790.8,1112.5 L1791.5,1109.0 L1792.2,1104.5 L1793.0,1112.1 L1793.8,1110.6 L1794.5,1092.2 L1795.2,1104.7 L1796.0,1095.3 L1796.8,1096.4 L1797.5,1106.8 L1798.2,1105.6 L1799.0,1105.6 L1799.8,1097.2 L1800.5,1102.2 L1801.2,1096.2 L1802.0,1106.1 L1802.8,1108.1 L1803.5,1116.0 L1804.2,1111.8 L1805.0,1095.2 L1805.8,1097.6 L1806.5,1093.5 L1807.2,1102.7 L1808.0,1115.1 L1808.8,1105.0 L1809.5,1082.5 L1810.2,1089.4 L1811.0,1088.9 L1811.8,1102.3 L1812.5,1098.2 L1813.2,1100.2 L1814.0,1111.2 L1814.8,1091.5 L1815.5,1091.3 L1816.2,1112.3 L1817.0,1100.1 L1817.8,1091.7 L1818.5,1082.4 L1819.2,1086.3 L1820.0,1079.5 L1820.8,1098.5 L1821.5,1098.5 L1822.2,1105.9 L1823.0,1097.5 L1823.8,1093.4 L1824.5,1093.2 L1825.2,1113.7 L1826.0,1085.7 L1826.8,1100.8 L1827.5,1099.8 L1828.2,1104.5 L1829.0,1096.7 L1829.8,1103.8 L1830.5,1106.6 L1831.2,1099.4 L1832.0,1097.3 L1832.8,1099.7 L1833.5,1093.9 L1834.2,1099.9 L1835.0,1099.4 L1835.8,1103.4 L1836.5,1112.2 L1837.2,1112.0 L1838.0,1098.4 L1838.8,1106.4 L1839.5,1103.9 L1840.2,1107.2 L1841.0,1101.2 L1841.8,1102.7 L1842.5,1096.7 L1843.2,1093.9 L1844.0,1105.4 L1844.8,1107.7 L1845.5,1102.0 L1846.2,1099.2 L1847.0,1096.6 L1847.8,1090.3 L1848.5,1079.7 L1849.2,1094.6 L1850.0,1089.7 L1850.8,1082.9 L1851.5,1078.3 L1852.2,1090.2 L1853.0,1069.0 L1853.8,1088.1 L1854.5,1078.9 L1855.2,1086.3 L1856.0,1066.1 L1856.8,1067.5 L1857.5,1062.3 L1858.2,1063.4 L1859.0,1059.0 L1859.8,1054.0 L1860.5,1061.1 L1861.2,1050.0 L1862.0,1049.7 L1862.8,1053.6 L1863.5,1047.3 L1864.2,1047.2 L1865.0,1050.7 L1865.8,1047.3 L1866.5,1043.5 L1867.2,1049.8 L1868.0,1050.3 L1868.8,1061.1 L1869.5,1048.9 L1870.2,1061.1 L1871.0,1054.3 L1871.8,1058.7 L1872.5,1061.2 L1873.2,1066.8 L1874.0,1072.7 L1874.8,1080.3 L1875.5,1069.4 L1876.2,1083.3 L1877.0,1083.9 L1877.8,1085.4 L1878.5,1078.0 L1879.2,1090.7 L1880.0,1086.4 L1880.8,1091.4 L1881.5,1089.2 L1882.2,1097.3 L1883.0,1102.2 L1883.8,1103.9 L1884.5,1096.0 L1885.2,1106.0 L1886.0,1110.6" fill="none" stroke="#000" stroke-width="5.5" stroke-linejoin="round"/></g>
<rect x="135.3" y="36.4" width="1758.6" height="1291.5" fill="none" stroke="#000" stroke-width="15.8"/>
<rect x="127.4" y="1320" width="16" height="20.3" fill="#000"/>
<rect x="323.5" y="1320" width="15.4" height="33.5" fill="#000"/>
<rect x="714.0" y="1320" width="15.4" height="33.5" fill="#000"/>
<rect x="1104.5" y="1320" width="15.4" height="33.5" fill="#000"/>
<rect x="1495.0" y="1320" width="15.4" height="33.5" fill="#000"/>
<rect x="1885.5" y="1320" width="15.4" height="33.5" fill="#000"/>
<rect x="518.8" y="1320" width="15.4" height="20" fill="#000"/>
<rect x="909.2" y="1320" width="15.4" height="20" fill="#000"/>
<rect x="1299.7" y="1320" width="15.4" height="20" fill="#000"/>
<rect x="1690.2" y="1320" width="15.4" height="20" fill="#000"/>
<line x1="667" y1="1318" x2="667" y2="1331" stroke="#ff0000" stroke-width="6.4"/>
<line x1="721.3" y1="1318" x2="721.3" y2="1331" stroke="#ff0000" stroke-width="6.4"/>
<line x1="765.5" y1="1318" x2="765.5" y2="1331" stroke="#ff0000" stroke-width="6.4"/>
<line x1="932.3" y1="1318" x2="932.3" y2="1331" stroke="#ff0000" stroke-width="6.4"/>
<line x1="1045.8" y1="1318" x2="1045.8" y2="1331" stroke="#ff0000" stroke-width="6.4"/>
<line x1="1249.3" y1="1318" x2="1249.3" y2="1331" stroke="#ff0000" stroke-width="6.4"/>
<line x1="1319.5" y1="1318" x2="1319.5" y2="1331" stroke="#ff0000" stroke-width="6.4"/>
<line x1="1474.3" y1="1318" x2="1474.3" y2="1331" stroke="#ff0000" stroke-width="6.4"/>
<line x1="1601.1" y1="1318" x2="1601.1" y2="1331" stroke="#ff0000" stroke-width="6.4"/>
<line x1="1686.1" y1="1318" x2="1686.1" y2="1331" stroke="#ff0000" stroke-width="6.4"/>
<line x1="1813.9" y1="1318" x2="1813.9" y2="1331" stroke="#ff0000" stroke-width="6.4"/>
<line x1="1862.8" y1="1318" x2="1862.8" y2="1331" stroke="#ff0000" stroke-width="6.4"/>
<text x="331.2" y="1416" font-family="Liberation Sans, Arial, sans-serif" font-size="58" text-anchor="middle">20</text>
<text x="721.7" y="1416" font-family="Liberation Sans, Arial, sans-serif" font-size="58" text-anchor="middle">30</text>
<text x="1112.2" y="1416" font-family="Liberation Sans, Arial, sans-serif" font-size="58" text-anchor="middle">40</text>
<text x="1502.7" y="1416" font-family="Liberation Sans, Arial, sans-serif" font-size="58" text-anchor="middle">50</text>
<text x="1893.2" y="1416" font-family="Liberation Sans, Arial, sans-serif" font-size="58" text-anchor="middle">60</text>
<text x="1015" y="1522.3" font-family="Liberation Sans, Arial, sans-serif" font-size="69.6" text-anchor="middle">2theta (degree)</text>
<text transform="translate(78.6,681) rotate(-90)" x="0" y="0" font-family="Liberation Sans, Arial, sans-serif" font-size="69.2" text-anchor="middle">Intensity (a.u.)</text>
<text transform="translate(677.8,802.2) rotate(-90)" x="0" y="0" font-family="Liberation Sans, Arial, sans-serif" font-weight="bold" font-size="55" text-anchor="middle">(006)</text>
<text transform="translate(774.0,115.2) rotate(-90)" x="0" y="0" font-family="Liberation Sans, Arial, sans-serif" font-weight="bold" font-size="55" text-anchor="middle">(101)</text>
<text transform="translate(795.8,718.2) rotate(-90)" x="0" y="0" font-family="Liberation Sans, Arial, sans-serif" font-weight="bold" font-size="55" text-anchor="middle">(012)</text>
<text transform="translate(956.9,719.1) rotate(-90)" x="0" y="0" font-family="Liberation Sans, Arial, sans-serif" font-weight="bold" font-size="55" text-anchor="middle">(104)</text>
<text transform="translate(1069.8,872.8) rotate(-90)" x="0" y="0" font-family="Liberation Sans, Arial, sans-serif" font-weight="bold" font-size="55" text-anchor="middle">(015)</text>
<text transform="translate(1339.2,577.3) rotate(-90)" x="0" y="0" font-family="Liberation Sans, Arial, sans-serif" font-weight="bold" font-size="55" text-anchor="middle">(107)</text>
<text transform="translate(1489.2,668.6) rotate(-90)" x="0" y="0" font-family="Liberation Sans, Arial, sans-serif" font-weight="bold" font-size="55" text-anchor="middle">(018)</text>
<text transform="translate(1614.2,577.3) rotate(-90)" x="0" y="0" font-family="Liberation Sans, Arial, sans-serif" font-weight="bold" font-size="55" text-anchor="middle">(110)</text>
<text transform="translate(584,278.6) scale(0.86,1)" x="0" y="0" font-family="Liberation Sans, Arial, sans-serif" font-weight="bold" font-size="49">Cu</text>
<text transform="translate(587,357.2) scale(0.86,1)" x="0" y="0" font-family="Liberation Sans, Arial, sans-serif" font-weight="bold" font-size="49">Cr</text>
<text transform="translate(591.5,442) scale(0.86,1)" x="0" y="0" font-family="Liberation Sans, Arial, sans-serif" font-weight="bold" font-size="49">S</text>
</svg></body></html>
